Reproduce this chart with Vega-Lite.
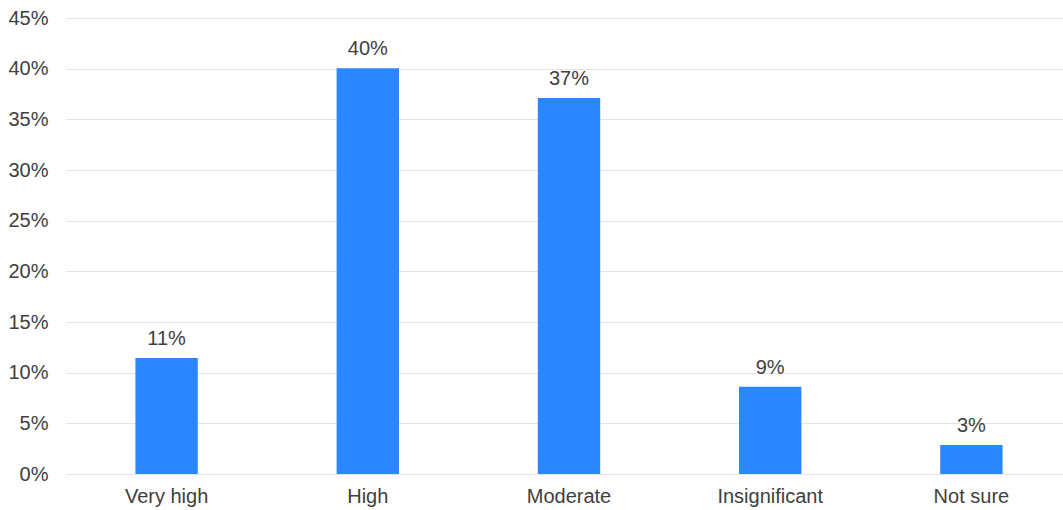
{
  "$schema": "https://vega.github.io/schema/vega-lite/v6.json",
  "autosize": {"type": "none"},
  "padding": {"left": 66, "top": 18, "right": 0, "bottom": 36},
  "width": 1006,
  "height": 456,
  "background": "white",
  "config": {"view": {"stroke": null}, "font": "Liberation Sans"},
  "data": {"values": [
    {"category": "Very high", "value": 11.45, "label": "11%"},
    {"category": "High", "value": 40.05, "label": "40%"},
    {"category": "Moderate", "value": 37.1, "label": "37%"},
    {"category": "Insignificant", "value": 8.6, "label": "9%"},
    {"category": "Not sure", "value": 2.85, "label": "3%"}
  ]},
  "encoding": {
    "x": {"field": "category", "type": "nominal", "sort": null,
      "scale": {"paddingInner": 0.69, "paddingOuter": 0.345},
      "axis": {"title": null, "labelAngle": 0, "labelFontSize": 20, "labelColor": "#404040", "labelFont": "Liberation Sans", "domain": false, "ticks": false, "labelPadding": 12}},
    "y": {"field": "value", "type": "quantitative",
      "scale": {"domain": [0, 45]},
      "axis": {"title": null, "values": [0,5,10,15,20,25,30,35,40,45], "labelExpr": "datum.value + '%'", "labelFontSize": 20, "labelColor": "#404040", "labelFont": "Liberation Sans", "domain": false, "ticks": false, "labelPadding": 18, "gridColor": "#e3e3e3", "gridWidth": 1.2}}
  },
  "layer": [
    {"mark": {"type": "bar", "color": "#2a87ff"}},
    {"mark": {"type": "text", "dy": -9, "fontSize": 20, "color": "#404040", "font": "Liberation Sans", "baseline": "bottom"},
     "encoding": {"text": {"field": "label"}}}
  ]
}
